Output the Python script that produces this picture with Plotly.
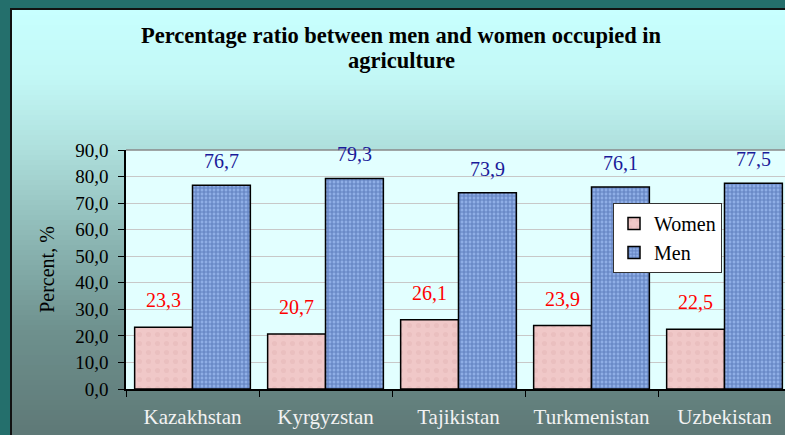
import plotly.graph_objects as go

countries = ["Kazakhstan", "Kyrgyzstan", "Tajikistan", "Turkmenistan", "Uzbekistan"]
women = [23.3, 20.7, 26.1, 23.9, 22.5]
men = [76.7, 79.3, 73.9, 76.1, 77.5]
y_ticks = [0, 10, 20, 30, 40, 50, 60, 70, 80, 90]
title_lines = ["Percentage ratio between men and women occupied in", "agriculture"]

W, H = 785, 435
L, T, B = 126, 150, 46
PW, PH = W - L, H - T - B
CAT_W = 133.0


def px_x(p):
    return (p - L) / PW


def px_y(p):
    return (H - B - p) / PH


def fmt(v):
    return f"{v:.1f}".replace(".", ",")


def hex2rgb(h):
    h = h.lstrip("#")
    return tuple(int(h[i:i + 2], 16) for i in (0, 2, 4))


stops = [(10, "#C8FFFF"), (80, "#C2F7F5"), (150, "#AEDFDC"), (250, "#88B2AF"),
         (330, "#6E918E"), (435, "#5E7876")]


def grad(p):
    for (a, ca), (b, cb) in zip(stops, stops[1:]):
        if a <= p <= b:
            t = (p - a) / (b - a)
            ra, rb = hex2rgb(ca), hex2rgb(cb)
            return "rgb(%d,%d,%d)" % tuple(round(x + (y - x) * t) for x, y in zip(ra, rb))
    return stops[-1][1]


shapes = []
# outer teal frame
shapes.append(dict(type="rect", xref="paper", yref="paper", x0=px_x(0), x1=px_x(W),
                   y0=px_y(H), y1=px_y(0), fillcolor="#246F6C", line_width=0, layer="below"))
# frame black line
shapes.append(dict(type="rect", xref="paper", yref="paper", x0=px_x(10), x1=px_x(W + 5),
                   y0=px_y(H + 5), y1=px_y(8), fillcolor="#111", line_width=0, layer="below"))
# gradient bands
step = 5
p = 10
while p < H:
    shapes.append(dict(type="rect", xref="paper", yref="paper", x0=px_x(12), x1=px_x(W + 5),
                       y0=px_y(min(p + step + 0.6, H + 2)), y1=px_y(p),
                       fillcolor=grad(p + step / 2), line_width=0, layer="below"))
    p += step
# plot area background
shapes.append(dict(type="rect", xref="paper", yref="paper", x0=0, x1=1.02, y0=0, y1=1,
                   fillcolor="#E2FFFF", line_width=0, layer="below"))
# top border line of plot area
shapes.append(dict(type="line", xref="paper", yref="paper", x0=0, x1=1.02, y0=1, y1=1,
                   line=dict(color="#888888", width=1.5), layer="below"))

fig = go.Figure()
fig.add_trace(go.Bar(
    name="Women", x=countries, y=women, legendgroup="w",
    marker=dict(color="#EEC4C4", line=dict(color="#000", width=1.5),
                pattern=dict(shape=".", fgcolor="#E4B6B6", bgcolor="#F0C8C8", size=9, solidity=0.25)),
))
fig.add_trace(go.Bar(
    name="Men", x=countries, y=men, legendgroup="m",
    marker=dict(color="#7F9FD8", line=dict(color="#000", width=1.5),
                pattern=dict(shape="+", fgcolor="#34559A", bgcolor="#8FAEE6", size=4, solidity=0.5)),
))

annotations = []
for c, v in zip(countries, women):
    annotations.append(dict(x=c, y=v, xref="x", yref="y", text=fmt(v), showarrow=False,
                            xshift=-29, yshift=14, yanchor="bottom",
                            font=dict(family="Liberation Serif", size=20, color="#FF0000")))
for c, v in zip(countries, men):
    annotations.append(dict(x=c, y=v, xref="x", yref="y", text=fmt(v), showarrow=False,
                            xshift=29, yshift=11, yanchor="bottom",
                            font=dict(family="Liberation Serif", size=20, color="#1A1A99")))
for i, line in enumerate(title_lines):
    annotations.append(dict(x=px_x(401), y=px_y(35 + 25 * i), xref="paper", yref="paper",
                            text=line, showarrow=False, xanchor="center", yanchor="middle",
                            font=dict(family="Liberation Serif", size=22.5, color="#000", weight="bold")))

fig.update_layout(
    width=W, height=H,
    margin=dict(l=L, r=0, t=T, b=B),
    paper_bgcolor="#246F6C",
    plot_bgcolor="rgba(0,0,0,0)",
    separators=", ",
    barmode="group", bargap=0.13, bargroupgap=0,
    shapes=shapes, annotations=annotations,
    showlegend=True,
    legend=dict(x=px_x(613), y=px_y(203), xanchor="left", yanchor="top",
                bgcolor="#FFFFFF", bordercolor="#333333", borderwidth=1,
                font=dict(family="Liberation Serif", size=20, color="#000"),
                tracegroupgap=11, traceorder="normal"),
    font=dict(family="Liberation Serif", size=16, color="#000"),
)
fig.update_xaxes(
    range=[-0.5, -0.5 + PW / CAT_W], showgrid=False, showline=True, linecolor="#000", linewidth=1.5,
    ticks="outside", tickson="boundaries", ticklen=6, tickcolor="#000", tickwidth=1.2,
    tickfont=dict(family="Liberation Serif", size=21, color="#F2F2F2"), ticklabelstandoff=8,
)
fig.update_yaxes(
    range=[0, 90], tickvals=y_ticks, tickformat=".1f", showgrid=True, gridcolor="#C8C8C8", gridwidth=1.2,
    showline=True, linecolor="#000", linewidth=1.5, ticks="outside", ticklen=6, tickcolor="#000",
    tickwidth=1.2, tickfont=dict(family="Liberation Serif", size=19, color="#000"), ticklabelstandoff=6,
    title=dict(text="Percent, %", font=dict(family="Liberation Serif", size=20, color="#000"), standoff=15),
    zeroline=False,
)

fig.write_html("out.html", config={"displayModeBar": False},
               post_script="document.body.style.margin='0';document.body.style.padding='0';document.body.style.overflow='hidden';")
